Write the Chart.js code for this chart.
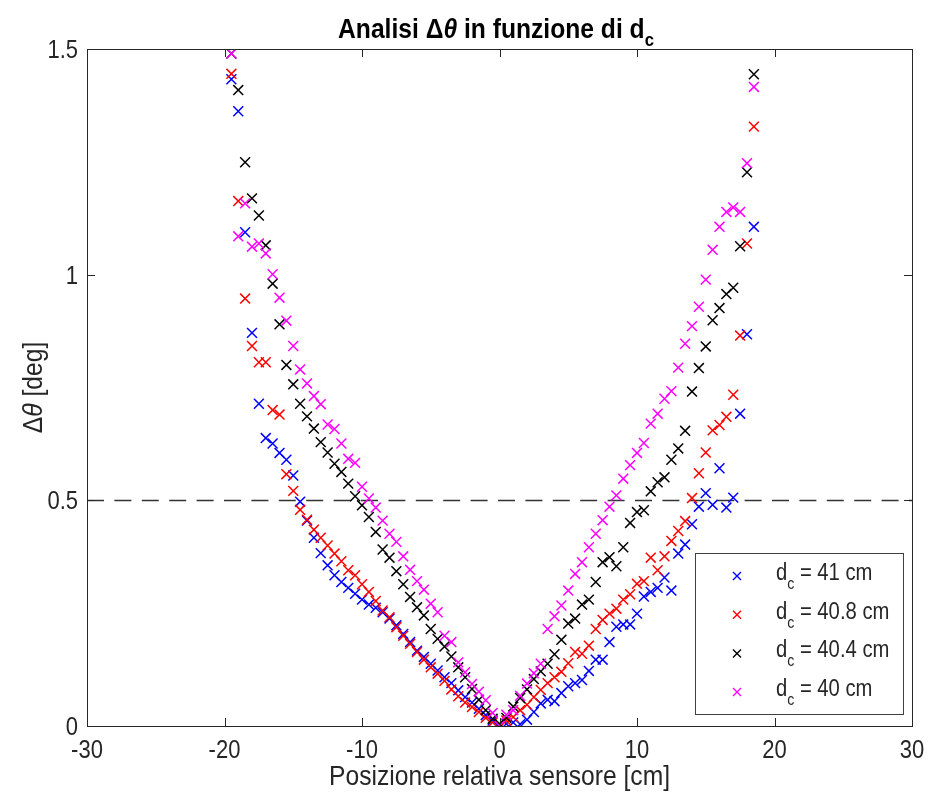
<!DOCTYPE html>
<html>
<head>
<meta charset="utf-8">
<script src="https://cdn.jsdelivr.net/npm/chart.js@4.4.1/dist/chart.umd.min.js"></script>
<style>
  html, body { margin: 0; padding: 0; background: #fff; }
  #wrap { width: 928px; height: 798px; }
</style>
</head>
<body>
<div id="wrap"><canvas id="chart" width="928" height="798"></canvas></div>
<script>
(function () {
  "use strict";

  // sensor positions [cm], shared by all four series
  var positions = [
    -19.5, -19, -18.5, -18, -17.5, -17, -16.5, -16, -15.5, -15, -14.5, -14, -13.5,
    -13, -12.5, -12, -11.5, -11, -10.5, -10, -9.5, -9, -8.5, -8, -7.5, -7, -6.5,
    -6, -5.5, -5, -4.5, -4, -3.5, -3, -2.5, -2, -1.5, -1, -0.5, 0,
    0.5, 1, 1.5, 2, 2.5, 3, 3.5, 4, 4.5, 5, 5.5, 6, 6.5, 7, 7.5, 8, 8.5, 9, 9.5,
    10, 10.5, 11, 11.5, 12, 12.5, 13, 13.5, 14, 14.5, 15, 15.5, 16, 16.5, 17,
    17.5, 18, 18.5
  ];

  // delta theta [deg]
  var dTheta41 = [
    1.433, 1.362, 1.094, 0.871, 0.714, 0.638, 0.626, 0.605, 0.59, 0.555, 0.497, 0.455, 0.417,
    0.383, 0.356, 0.334, 0.319, 0.306, 0.293, 0.28, 0.269, 0.262, 0.252, 0.238, 0.223, 0.204, 0.186,
    0.167, 0.153, 0.138, 0.123, 0.108, 0.095, 0.079, 0.064, 0.052, 0.038, 0.024, 0.012, 0.003,
    0.005, 0.008, 0.004, 0.014, 0.031, 0.05, 0.058, 0.055, 0.073, 0.088, 0.095, 0.102, 0.122, 0.147,
    0.147, 0.186, 0.22, 0.225, 0.225, 0.249, 0.287, 0.297, 0.306, 0.329, 0.30, 0.382, 0.402, 0.447,
    0.486, 0.516, 0.49, 0.571, 0.484, 0.506, 0.692, 0.868, 1.106
  ];
  var dTheta408 = [
    1.445, 1.163, 0.947, 0.842, 0.806, 0.806, 0.70, 0.69, 0.558, 0.521, 0.479, 0.457, 0.435,
    0.417, 0.40, 0.382, 0.365, 0.345, 0.334, 0.314, 0.297, 0.277, 0.256, 0.241, 0.219, 0.20, 0.182,
    0.164, 0.147, 0.13, 0.116, 0.10, 0.081, 0.066, 0.052, 0.042, 0.031, 0.018, 0.008, 0.003,
    0.012, 0.02, 0.035, 0.047, 0.064, 0.08, 0.095, 0.108, 0.12, 0.139, 0.164, 0.16, 0.178, 0.215,
    0.235, 0.249, 0.26, 0.28, 0.292, 0.315, 0.321, 0.373, 0.345, 0.376, 0.41, 0.432, 0.454, 0.505,
    0.56, 0.606, 0.655, 0.667, 0.685, 0.734, 0.865, 1.069, 1.328
  ];
  var dTheta404 = [
    1.49, 1.409, 1.249, 1.169, 1.131, 1.065, 0.98, 0.89, 0.80, 0.757, 0.714, 0.686, 0.659,
    0.629, 0.606, 0.581, 0.563, 0.537, 0.509, 0.489, 0.463, 0.43, 0.391, 0.373, 0.343, 0.314, 0.286,
    0.263, 0.245, 0.215, 0.193, 0.176, 0.154, 0.13, 0.108, 0.082, 0.058, 0.035, 0.016, 0.005,
    0.018, 0.043, 0.062, 0.081, 0.104, 0.121, 0.138, 0.159, 0.191, 0.227, 0.238, 0.269, 0.28, 0.319,
    0.363, 0.374, 0.354, 0.396, 0.45, 0.474, 0.478, 0.52, 0.54, 0.551, 0.59, 0.615, 0.654, 0.741,
    0.793, 0.841, 0.899, 0.926, 0.957, 0.971, 1.063, 1.227, 1.444
  ];
  var dTheta40 = [
    1.49, 1.085, 1.158, 1.062, 1.069, 1.047, 1.001, 0.949, 0.898, 0.842, 0.79, 0.759, 0.731,
    0.713, 0.668, 0.658, 0.626, 0.592, 0.583, 0.53, 0.504, 0.484, 0.455, 0.426, 0.408, 0.376, 0.346,
    0.321, 0.302, 0.271, 0.252, 0.20, 0.186, 0.141, 0.119, 0.093, 0.076, 0.057, 0.029, 0.0,
    0.025, 0.035, 0.067, 0.094, 0.117, 0.138, 0.215, 0.243, 0.267, 0.30, 0.337, 0.363, 0.396, 0.426,
    0.456, 0.486, 0.511, 0.548, 0.578, 0.605, 0.627, 0.67, 0.692, 0.725, 0.742, 0.794, 0.847, 0.886,
    0.929, 0.989, 1.055, 1.106, 1.139, 1.149, 1.139, 1.247, 1.416
  ];

  var seriesValues = ["41", "40.8", "40.4", "40"];
  var seriesColors = ["#0000ff", "#ff0000", "#000000", "#ff00ff"];
  var seriesY = [dTheta41, dTheta408, dTheta404, dTheta40];

  var xRange = [-30, 30];
  var yRange = [0, 1.5];
  var xTickStep = 10;
  var yTickStep = 0.5;
  var threshold = 0.5;

  var FONT = "'Liberation Sans', Arial, Helvetica, sans-serif";
  var SQ = 0.88; // horizontal squeeze, the reference text is condensed
  var TXT = "#262626";

  function partsWidth(ctx, parts) {
    var w = 0;
    parts.forEach(function (p) {
      ctx.font = p.font;
      w += ctx.measureText(p.text).width;
    });
    return w;
  }

  function drawRich(ctx, parts, x, y, align, angle) {
    ctx.save();
    ctx.translate(x, y);
    if (angle) ctx.rotate(angle);
    ctx.scale(SQ, 1);
    var w = partsWidth(ctx, parts);
    var cx = align === "center" ? -w / 2 : align === "right" ? -w : 0;
    ctx.textAlign = "left";
    ctx.textBaseline = "alphabetic";
    parts.forEach(function (p) {
      ctx.font = p.font;
      ctx.fillStyle = p.color || TXT;
      ctx.fillText(p.text, cx, p.dy || 0);
      cx += ctx.measureText(p.text).width;
    });
    ctx.restore();
  }

  var dashedLine = {
    id: "dashedLine",
    beforeDatasetsDraw: function (chart) {
      var a = chart.chartArea;
      var ctx = chart.ctx;
      var py = Math.round(chart.scales.y.getPixelForValue(threshold)) + 0.5;
      ctx.save();
      ctx.strokeStyle = "#333333";
      ctx.lineWidth = 1.3;
      ctx.setLineDash([17, 10.4]);
      ctx.beginPath();
      ctx.moveTo(a.left, py);
      ctx.lineTo(a.right, py);
      ctx.stroke();
      ctx.restore();
    }
  };

  var frame = {
    id: "frame",
    afterDatasetsDraw: function (chart) {
      var a = chart.chartArea;
      var ctx = chart.ctx;
      var xs = chart.scales.x;
      var ys = chart.scales.y;
      var tick = 8;
      ctx.save();
      ctx.strokeStyle = TXT;
      ctx.lineWidth = 1;
      ctx.strokeRect(a.left + 0.5, a.top + 0.5, a.right - a.left, a.bottom - a.top);
      ctx.beginPath();
      xs.ticks.forEach(function (t) {
        var px = Math.round(xs.getPixelForValue(t.value)) + 0.5;
        ctx.moveTo(px, a.bottom);
        ctx.lineTo(px, a.bottom - tick);
        ctx.moveTo(px, a.top);
        ctx.lineTo(px, a.top + tick);
      });
      ys.ticks.forEach(function (t) {
        var py = Math.round(ys.getPixelForValue(t.value)) + 0.5;
        ctx.moveTo(a.left, py);
        ctx.lineTo(a.left + tick, py);
        ctx.moveTo(a.right, py);
        ctx.lineTo(a.right - tick, py);
      });
      ctx.stroke();
      ctx.restore();

      var tickFont = "25px " + FONT;
      xs.ticks.forEach(function (t) {
        drawRich(ctx, [{ text: String(t.value), font: tickFont }],
          xs.getPixelForValue(t.value), a.bottom + 32, "center");
      });
      ys.ticks.forEach(function (t) {
        drawRich(ctx, [{ text: String(t.value), font: tickFont }],
          a.left - 9, ys.getPixelForValue(t.value) + 9, "right");
      });
    },
    afterDraw: function (chart) {
      var a = chart.chartArea;
      var ctx = chart.ctx;
      var bold = "bold 28px " + FONT;

      drawRich(ctx, [
        { text: "Analisi \u0394", font: bold, color: "#000" },
        { text: "\u03b8", font: "italic bold 28px " + FONT, color: "#000" },
        { text: " in funzione di d", font: bold, color: "#000" },
        { text: "c", font: "bold 19px " + FONT, dy: 8, color: "#000" }
      ], 496, 38, "center");

      drawRich(ctx, [{ text: "Posizione relativa sensore [cm]", font: "28px " + FONT }],
        (a.left + a.right) / 2, 785, "center");

      drawRich(ctx, [
        { text: "\u0394", font: "28px " + FONT },
        { text: "\u03b8", font: "italic 28px " + FONT },
        { text: " [deg]", font: "28px " + FONT }
      ], 42, (a.top + a.bottom) / 2, "center", -Math.PI / 2);

      // legend box
      var lx = 695, ly = 553, lw = 208, lh = 161;
      ctx.save();
      ctx.fillStyle = "#ffffff";
      ctx.fillRect(lx, ly, lw, lh);
      ctx.strokeStyle = "#404040";
      ctx.lineWidth = 1;
      ctx.strokeRect(lx + 0.5, ly + 0.5, lw, lh);
      ctx.restore();

      var rowH = 38.7;
      seriesValues.forEach(function (v, i) {
        var my = ly + 23 + i * rowH;
        var mx = 737;
        var s = 4;
        ctx.save();
        ctx.strokeStyle = seriesColors[i];
        ctx.lineWidth = 1.4;
        ctx.beginPath();
        ctx.moveTo(mx - s, my - s);
        ctx.lineTo(mx + s, my + s);
        ctx.moveTo(mx - s, my + s);
        ctx.lineTo(mx + s, my - s);
        ctx.stroke();
        ctx.restore();
        drawRich(ctx, [
          { text: "d", font: "23px " + FONT },
          { text: "c", font: "16px " + FONT, dy: 9 },
          { text: " = " + v + " cm", font: "23px " + FONT }
        ], 776, my + 4, "left");
      });
    }
  };

  var datasets = seriesValues.map(function (v, i) {
    return {
      label: "d_c = " + v + " cm",
      data: positions.map(function (x, k) {
        return { x: x, y: seriesY[i][k] };
      }),
      pointStyle: "crossRot",
      pointRadius: 7,
      pointHoverRadius: 7,
      borderColor: seriesColors[i],
      backgroundColor: seriesColors[i],
      borderWidth: 1.5,
      order: seriesValues.length - i
    };
  });

  new Chart(document.getElementById("chart"), {
    type: "scatter",
    data: { datasets: datasets },
    plugins: [dashedLine, frame],
    options: {
      responsive: false,
      animation: false,
      events: [],
      layout: { padding: { top: 49, right: 16, left: 0, bottom: 0 } },
      plugins: {
        legend: { display: false },
        title: { display: false },
        tooltip: { enabled: false }
      },
      scales: {
        x: {
          type: "linear",
          min: xRange[0],
          max: xRange[1],
          ticks: { display: false, stepSize: xTickStep },
          grid: { display: false },
          border: { display: false },
          afterFit: function (scale) { scale.height = 72; }
        },
        y: {
          type: "linear",
          min: yRange[0],
          max: yRange[1],
          ticks: { display: false, stepSize: yTickStep },
          grid: { display: false },
          border: { display: false },
          afterFit: function (scale) { scale.width = 87; }
        }
      }
    }
  });
})();
</script>
</body>
</html>
